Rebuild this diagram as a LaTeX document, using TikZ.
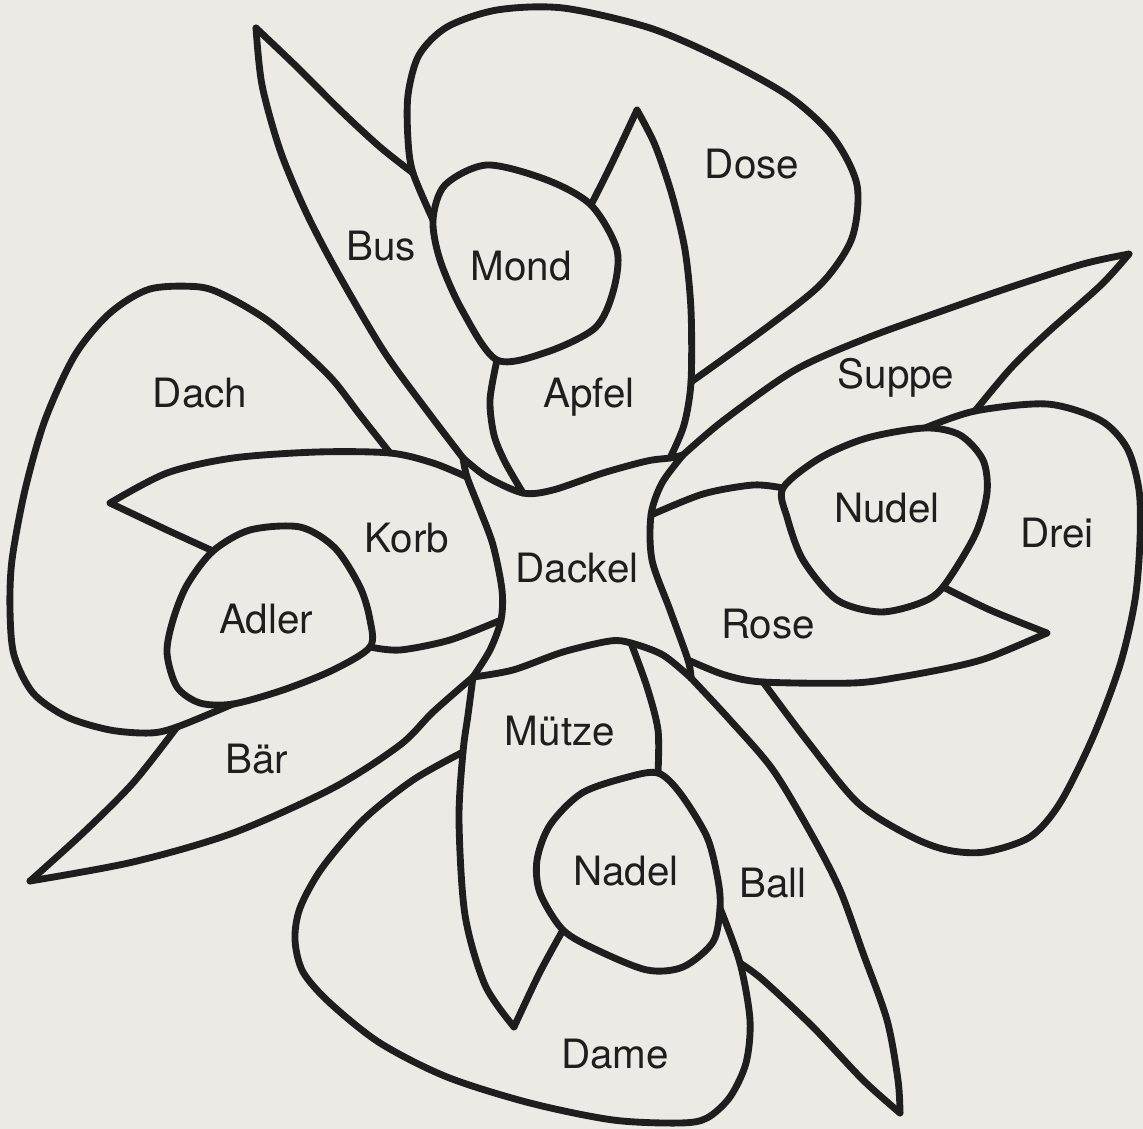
\documentclass[tikz,border=0pt]{standalone}
\usepackage{fontspec}
\setmainfont{TeX Gyre Heros}
\definecolor{paper}{RGB}{236,234,228}
\definecolor{ink}{RGB}{30,30,30}
\begin{document}
\begin{tikzpicture}[x=0.02cm,y=-0.02cm,
  edge/.style={draw=ink,line width=3.9pt,line cap=round,line join=round},
  lbl/.style={anchor=base,inner sep=0pt,font=\fontsize{23}{23}\selectfont,text=ink}]
\fill[paper] (0,0) rectangle (1143,1129);
\useasboundingbox (0,0) rectangle (1143,1129);
% junctions
\coordinate (TL) at (463,458);
\coordinate (TR) at (683,455);
\coordinate (BR) at (691,678);
\coordinate (BL) at (473,677);
\coordinate (KT) at (467,477);
\coordinate (KB) at (501,620);
\coordinate (AL) at (523,493);
\coordinate (AR) at (670,458);
\coordinate (RT) at (651,515);
\coordinate (RB) at (688,660);
\coordinate (MR) at (631,643);
% north
\coordinate (BusTip) at (256,28);
\coordinate (DoseJ) at (413,173);
\coordinate (MondJ1) at (433,220);
\coordinate (MondJ2) at (591,205);
\coordinate (MondJ3) at (497,360);
\coordinate (ApfelTip) at (637,110);
\coordinate (DoseJ2) at (691,382);
% east
\coordinate (SuppeTip) at (1129,254);
\coordinate (DreiJ) at (975,411);
\coordinate (NudelJ1) at (925,428);
\coordinate (NudelJ2) at (783,488);
\coordinate (NudelJ3) at (943,587);
\coordinate (RoseTip) at (1047,633);
\coordinate (DreiJ2) at (763,682);
% south
\coordinate (BallTip) at (900,1113);
\coordinate (DameJ) at (740,963);
\coordinate (NadelJ1) at (720,908);
\coordinate (NadelJ2) at (658,773);
\coordinate (NadelJ3) at (563,930);
\coordinate (MuetzeTip) at (514,1027);
\coordinate (DameJ2) at (463,752);
% west
\coordinate (BaerTip) at (30,881);
\coordinate (DachJ) at (177,727);
\coordinate (AdlerJ1) at (233,704);
\coordinate (AdlerJ2) at (370,647);
\coordinate (AdlerJ3) at (213,551);
\coordinate (KorbTip) at (110,503);
\coordinate (DachJ2) at (390,453);

% centre (Dackel)
\draw[edge] plot[smooth] coordinates {(TL) (487,477) (AL) (553,490) (603,473) (647,461) (AR) (TR)};
\draw[edge] plot[smooth] coordinates {(TR) (662,483) (RT) (652,560) (670,610) (RB) (BR)};
\draw[edge] plot[smooth] coordinates {(BL) (513,670) (563,652) (610,641) (MR) (663,655) (BR)};
\draw[edge] plot[smooth] coordinates {(TL) (KT) (480,510) (493,545) (502,590) (KB) (490,650) (BL)};

% north arm
\draw[edge] plot[smooth] coordinates {(BusTip) (262,85) (280,150) (305,210) (335,268) (383,350) (425,408) (TL)};
\draw[edge] plot[smooth] coordinates {(BusTip) (297,67) (340,110) (380,147) (DoseJ)};
\draw[edge] plot[smooth] coordinates {(DoseJ2) (770,325) (822,283) (852,238) (857,185) (833,137) (790,97) (724,60) (650,28) (563,8) (497,10) (447,27) (419,55) (408,95) (408,140) (DoseJ) (MondJ1)};
\draw[edge] plot[smooth cycle] coordinates {(487,165) (547,180) (MondJ2) (617,250) (613,292) (595,328) (547,352) (MondJ3) (462,310) (440,260) (MondJ1) (445,185)};
\draw[edge] plot[smooth] coordinates {(MondJ3) (490,400) (494,435) (505,462) (AL)};
\draw[edge] plot[smooth] coordinates {(MondJ2) (612,163) (ApfelTip)};
\draw[edge] plot[smooth] coordinates {(ApfelTip) (655,145) (672,195) (685,250) (691,310) (DoseJ2) (684,425) (AR)};

% east arm
\draw[edge] plot[smooth] coordinates {(TR) (724,420) (795,370) (867,338) (939,312) (1011,287) (1083,264) (SuppeTip)};
\draw[edge] plot[smooth] coordinates {(SuppeTip) (1101,285) (1047,333) (1011,368) (DreiJ)};
\draw[edge] plot[smooth] coordinates {(DreiJ2) (808,742) (858,803) (910,836) (947,850) (985,852) (1030,837) (1060,803) (1093,737) (1120,665) (1135,600) (1140,540) (1139,490) (1127,448) (1100,420) (1047,404) (DreiJ) (NudelJ1)};
\draw[edge] plot[smooth cycle] coordinates {(NudelJ1) (960,435) (983,460) (987,493) (975,535) (NudelJ3) (920,603) (880,612) (837,600) (803,560) (787,517) (NudelJ2) (820,458) (867,438)};
\draw[edge] plot[smooth] coordinates {(RT) (703,494) (753,485) (NudelJ2)};
\draw[edge] plot[smooth] coordinates {(NudelJ3) (990,610) (RoseTip)};
\draw[edge] plot[smooth] coordinates {(RoseTip) (990,657) (953,667) (900,677) (853,683) (DreiJ2) (725,675) (RB)};

% south arm
\draw[edge] plot[smooth] coordinates {(BR) (730,720) (773,770) (813,837) (840,890) (863,953) (887,1020) (898,1080) (BallTip)};
\draw[edge] plot[smooth] coordinates {(BallTip) (863,1080) (813,1027) (763,980) (DameJ)};
\draw[edge] plot[smooth] coordinates {(DameJ2) (413,780) (363,820) (322,868) (300,908) (295,940) (303,972) (330,1003) (380,1043) (447,1077) (530,1103) (613,1120) (680,1123) (707,1118) (730,1097) (746,1063) (750,1020) (DameJ) (NadelJ1)};
\draw[edge] plot[smooth cycle] coordinates {(NadelJ2) (680,793) (707,837) (718,880) (NadelJ1) (713,942) (683,967) (647,970) (597,950) (NadelJ3) (540,893) (537,860) (550,825) (582,793) (628,777)};
\draw[edge] plot[smooth] coordinates {(BL) (468,715) (DameJ2) (459,820) (465,915) (485,985) (MuetzeTip)};
\draw[edge] plot[smooth] coordinates {(MuetzeTip) (540,972) (NadelJ3)};
\draw[edge] plot[smooth] coordinates {(MR) (647,687) (658,730) (NadelJ2)};

% west arm
\draw[edge] plot[smooth] coordinates {(BL) (433,712) (400,745) (333,788) (233,833) (133,862) (BaerTip)};
\draw[edge] plot[smooth] coordinates {(BaerTip) (83,833) (133,783) (DachJ)};
\draw[edge] plot[smooth] coordinates {(DachJ2) (360,415) (333,380) (300,348) (267,320) (230,298) (200,287) (150,289) (110,313) (75,355) (45,420) (25,490) (12,560) (10,610) (14,655) (33,693) (67,717) (110,730) (150,733) (DachJ) (AdlerJ1)};
\draw[edge] plot[smooth cycle] coordinates {(AdlerJ3) (250,530) (300,527) (335,548) (360,587) (370,620) (AdlerJ2) (333,670) (283,690) (AdlerJ1) (200,703) (177,687) (167,653) (173,620) (187,585)};
\draw[edge] plot[smooth] coordinates {(KorbTip) (167,473) (233,458) (317,452) (DachJ2) (433,463) (KT)};
\draw[edge] plot[smooth] coordinates {(KorbTip) (167,530) (AdlerJ3)};
\draw[edge] plot[smooth] coordinates {(AdlerJ2) (400,650) (450,640) (KB)};

% labels
\node[lbl] (bus) at (381,260) {Bus};
\node[lbl] (mond) at (521,280) {Mond};
\node[lbl] (dose) at (752,178) {Dose};
\node[lbl] (dach) at (200,407) {Dach};
\node[lbl] (apfel) at (589,407) {Apfel};
\node[lbl] (suppe) at (896,388) {Suppe};
\node[lbl] (korb) at (407,552) {Korb};
\node[lbl] (dackel) at (577,582) {Dackel};
\node[lbl] (nudel) at (887,522) {Nudel};
\node[lbl] (drei) at (1057,547) {Drei};
\node[lbl] (adler) at (266,633) {Adler};
\node[lbl] (rose) at (768,638) {Rose};
\node[lbl] (muetze) at (560,745) {Mütze};
\node[lbl] (baer) at (257,773) {Bär};
\node[lbl] (nadel) at (626,885) {Nadel};
\node[lbl] (ball) at (773,897) {Ball};
\node[lbl] (dame) at (615,1068) {Dame};
\end{tikzpicture}
\end{document}
